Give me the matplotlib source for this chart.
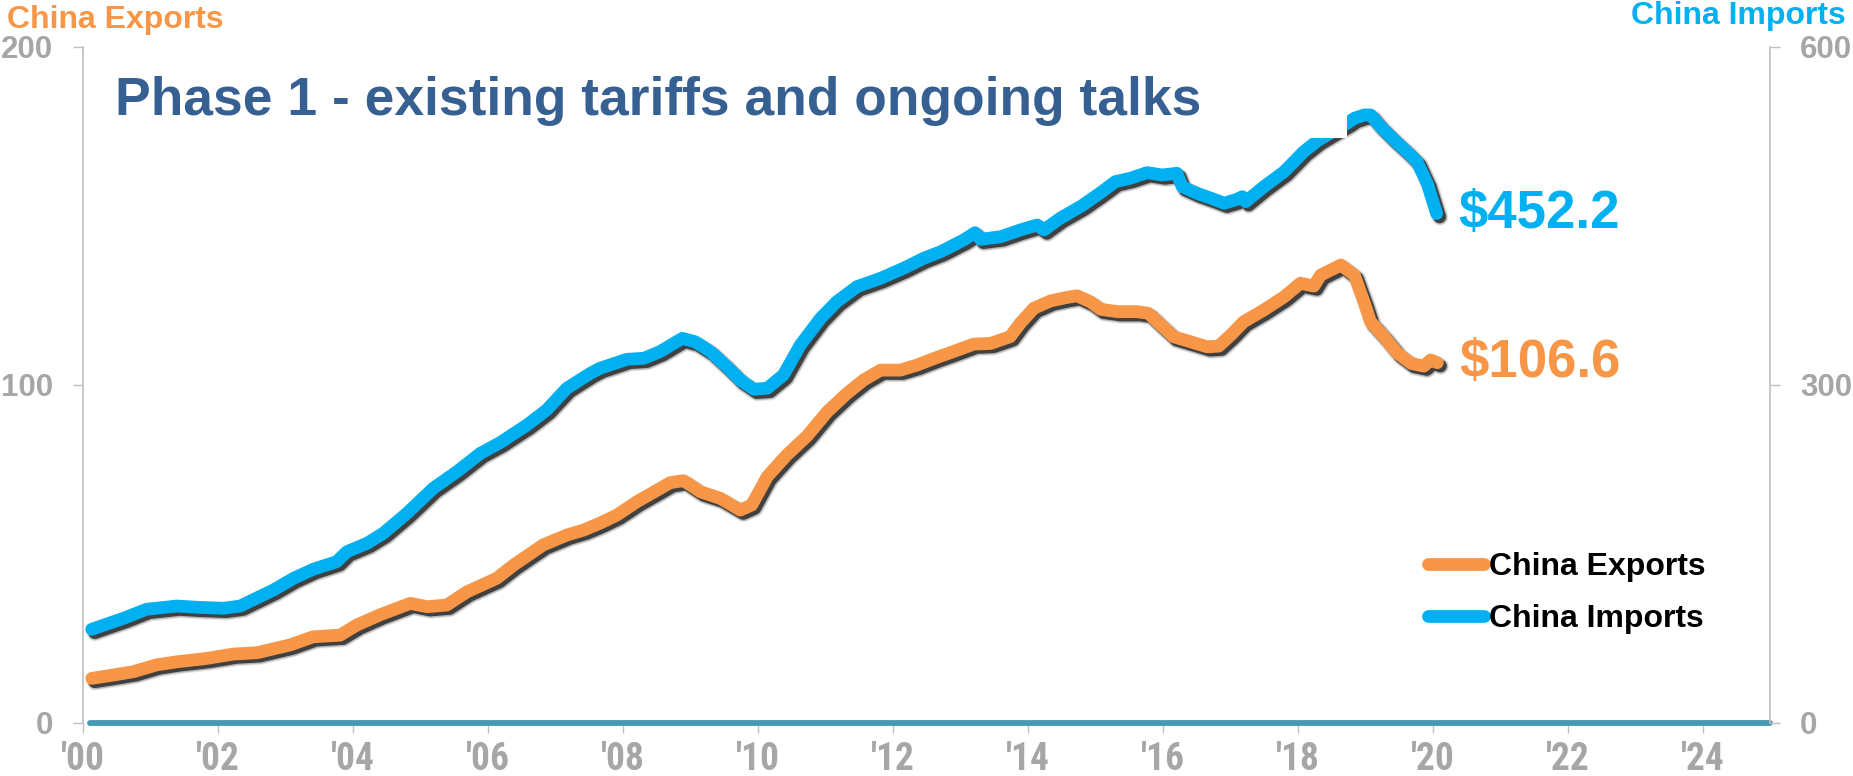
import matplotlib
matplotlib.use("Agg")
import matplotlib.pyplot as plt
from matplotlib import patheffects as pe
from matplotlib import font_manager as fm
from matplotlib.lines import Line2D
from matplotlib.patches import Rectangle

# --- data: 12-month totals, $bn -------------------------------------------
export_years = [2000.13, 2000.45, 2000.75, 2001.09, 2001.39, 2001.83, 2002.23, 2002.58,
                2003.07, 2003.41, 2003.81, 2004.06, 2004.40, 2004.85, 2005.10, 2005.39,
                2005.69, 2006.13, 2006.38, 2006.82, 2007.17, 2007.42, 2007.66, 2007.91,
                2008.21, 2008.51, 2008.70, 2008.90, 2009.15, 2009.44, 2009.74, 2009.91,
                2010.14, 2010.43, 2010.73, 2011.03, 2011.32, 2011.57, 2011.82, 2012.11,
                2012.36, 2012.66, 2012.90, 2013.20, 2013.45, 2013.74, 2013.89, 2014.09,
                2014.34, 2014.58, 2014.73, 2014.93, 2015.08, 2015.33, 2015.62, 2015.79,
                2015.97, 2016.16, 2016.41, 2016.66, 2016.83, 2017.01, 2017.20, 2017.50,
                2017.80, 2018.04, 2018.24, 2018.34, 2018.49, 2018.64, 2018.84, 2018.99,
                2019.08, 2019.28, 2019.48, 2019.68, 2019.87, 2019.97, 2020.07]
china_exports = [13.2, 14.2, 15.2, 17.2, 18.1, 19.1, 20.4, 20.8,
                 23.1, 25.5, 26.0, 29.0, 32.0, 35.4, 34.4, 34.9,
                 38.8, 42.8, 46.7, 52.7, 55.6, 57.1, 59.1, 61.5,
                 65.5, 68.9, 71.1, 71.7, 68.4, 66.5, 63.0, 64.5,
                 72.9, 79.3, 84.9, 92.1, 97.5, 101.5, 104.4, 104.4,
                 105.9, 108.2, 109.9, 112.1, 112.3, 114.3, 118.3, 122.7,
                 124.9, 125.9, 126.4, 124.6, 122.4, 121.7, 121.7, 121.2,
                 117.8, 114.3, 112.8, 111.3, 111.5, 114.8, 118.7, 122.2,
                 126.1, 130.1, 129.3, 132.5, 134.0, 135.5, 132.5, 124.2,
                 118.7, 114.3, 109.4, 106.4, 105.6, 107.4, 106.6]

import_years = [2000.13, 2000.60, 2000.94, 2001.39, 2001.69, 2002.08, 2002.33, 2002.82,
                2003.12, 2003.41, 2003.76, 2003.91, 2004.21, 2004.45, 2004.80, 2005.19,
                2005.54, 2005.89, 2006.18, 2006.58, 2006.87, 2007.17, 2007.52, 2007.66,
                2008.06, 2008.31, 2008.55, 2008.88, 2009.07, 2009.30, 2009.54, 2009.74,
                2009.94, 2010.14, 2010.38, 2010.63, 2010.93, 2011.17, 2011.47, 2011.82,
                2012.16, 2012.46, 2012.71, 2013.05, 2013.22, 2013.30, 2013.60, 2013.89,
                2014.14, 2014.24, 2014.48, 2014.80, 2015.08, 2015.30, 2015.52, 2015.77,
                2015.99, 2016.21, 2016.29, 2016.51, 2016.76, 2016.91, 2017.10, 2017.18,
                2017.23, 2017.50, 2017.80, 2018.09, 2018.30, 2018.55, 2018.75, 2018.84,
                2018.99, 2019.08, 2019.23, 2019.43, 2019.62, 2019.77, 2019.92, 2020.06]
china_imports = [83.2, 92.9, 100.9, 103.8, 102.7, 101.8, 103.8, 118.0,
                 128.4, 136.4, 143.2, 152.0, 159.5, 168.4, 186.1, 208.3,
                 223.0, 239.4, 248.8, 264.5, 277.8, 297.1, 310.4, 314.8,
                 322.8, 323.7, 329.6, 341.4, 338.4, 329.6, 316.3, 304.4,
                 296.2, 297.1, 308.9, 335.5, 359.2, 373.9, 387.3, 394.7,
                 403.6, 412.5, 418.3, 428.7, 435.2, 429.3, 431.6, 437.6,
                 442.0, 437.6, 448.0, 459.0, 470.7, 480.5, 483.5, 488.5,
                 486.4, 487.9, 476.0, 470.1, 464.8, 461.3, 464.8, 467.1,
                 462.7, 476.0, 489.3, 507.1, 517.0, 526.0, 533.0, 536.7,
                 539.7, 539.7, 529.3, 517.5, 507.1, 498.2, 479.0, 452.2]

x_ticks = list(range(2000, 2025, 2))
x_tick_labels = ["'00", "'02", "'04", "'06", "'08", "'10", "'12",
                 "'14", "'16", "'18", "'20", "'22", "'24"]
left_ticks = [0, 100, 200]
right_ticks = [0, 300, 600]

# --- style ---------------------------------------------------------------
ORANGE = "#F79646"
BLUE = "#00B0F0"
TITLE_BLUE = "#376092"
GREY_TXT = "#A6A6A6"
GREY_AX = "#BFBFBF"
ZERO_LINE = "#4599B3"

plt.rcParams["font.family"] = ["Liberation Sans", "DejaVu Sans"]
plt.rcParams["font.weight"] = "bold"

# a condensed face for the year labels, if one is available
installed = {f.name for f in fm.fontManager.ttflist}
narrow = None
for cand in ["Liberation Sans Narrow", "Arial Narrow", "Roboto Condensed",
             "DejaVu Sans Condensed", "Open Sans Condensed"]:
    if cand in installed:
        narrow = cand
        break
year_family = [narrow, "Liberation Sans"] if narrow else ["Liberation Sans"]
year_size = 27 if narrow else 20

W, H, DPI = 1853, 776, 100
fig = plt.figure(figsize=(W / DPI, H / DPI), dpi=DPI)
fig.patch.set_facecolor("white")

x0, x1, y_top, y_bot = 83, 1770, 47, 723
ax = fig.add_axes([x0 / W, 1 - y_bot / H, (x1 - x0) / W, (y_bot - y_top) / H])
ax2 = ax.twinx()

LW = 9.2


def shadow_effects():
    # soft drop shadow: a few widening, fading strokes under the line
    return [
        pe.SimpleLineShadow(offset=(2.4, -2.6), shadow_color="black", alpha=0.10, linewidth=LW + 3.0),
        pe.SimpleLineShadow(offset=(2.4, -2.6), shadow_color="black", alpha=0.20, linewidth=LW + 1.5),
        pe.SimpleLineShadow(offset=(2.2, -2.4), shadow_color="black", alpha=0.65, linewidth=LW),
        pe.Normal(),
    ]


ax.axhline(0, xmin=0.004, xmax=1.0, color=ZERO_LINE, lw=4.2,
           solid_capstyle="round", zorder=2, clip_on=False)

ax.plot(export_years, china_exports, color=ORANGE, lw=LW,
        solid_capstyle="round", solid_joinstyle="round",
        path_effects=shadow_effects(), zorder=3)
ax2.plot(import_years, china_imports, color=BLUE, lw=LW,
         solid_capstyle="round", solid_joinstyle="round",
         path_effects=shadow_effects(), zorder=3)

ax.set_xlim(2000, 2025)
ax.set_ylim(0, 200)
ax2.set_ylim(0, 600)

ax.set_xticks(x_ticks)
ax.set_xticklabels(x_tick_labels, family=year_family,
                   fontsize=year_size, fontweight="bold", color=GREY_TXT)
ax.set_yticks(left_ticks)
ax.set_yticklabels([str(v) for v in left_ticks], fontsize=22.5, fontweight="bold", color=GREY_TXT)
ax2.set_yticks(right_ticks)
ax2.set_yticklabels([str(v) for v in right_ticks], fontsize=22.5, fontweight="bold", color=GREY_TXT)

for a in (ax, ax2):
    for s in a.spines.values():
        s.set_visible(False)
    a.set_facecolor("none")
ax.spines["left"].set_visible(True)
ax.spines["left"].set_color(GREY_AX)
ax.spines["left"].set_linewidth(1.2)
ax2.spines["right"].set_visible(True)
ax2.spines["right"].set_color(GREY_AX)
ax2.spines["right"].set_linewidth(1.2)

ax.tick_params(axis="x", direction="out", length=7, width=1, color=GREY_AX, pad=6)
ax.tick_params(axis="y", direction="out", length=7, width=1, color=GREY_AX, pad=14.5)
ax2.tick_params(axis="y", direction="out", length=7, width=1, color=GREY_AX, pad=14.5)

# headline box (masks the chart area behind it)
mask = Rectangle(((100 - x0) / (x1 - x0), (y_bot - 138) / (y_bot - y_top)),
                 (1347 - 100) / (x1 - x0), 0.12,
                 transform=ax2.transAxes, facecolor="white", edgecolor="none",
                 zorder=5, clip_on=False)
ax2.add_patch(mask)
ax2.text((115 - x0) / (x1 - x0), (y_bot - 115) / (y_bot - y_top),
         "Phase 1 - existing tariffs and ongoing talks",
         transform=ax2.transAxes, fontsize=38.4, fontweight="bold",
         color=TITLE_BLUE, ha="left", va="baseline", zorder=6)

# end-of-line value labels
ax.annotate(f"${china_exports[-1]:.1f}", xy=(export_years[-1], china_exports[-1]),
            xytext=(22, 0), textcoords="offset pixels", fontsize=38,
            fontweight="bold", color=ORANGE, ha="left", va="center", zorder=6)
ax2.annotate(f"${china_imports[-1]:.1f}", xy=(import_years[-1], china_imports[-1]),
             xytext=(22, 0), textcoords="offset pixels", fontsize=38,
             fontweight="bold", color=BLUE, ha="left", va="center", zorder=6)

# axis titles
fig.text(7 / W, 1 - 28 / H, "China Exports", fontsize=23, fontweight="bold",
         color=ORANGE, ha="left", va="baseline")
fig.text(1846 / W, 1 - 24 / H, "China Imports", fontsize=23, fontweight="bold",
         color=BLUE, ha="right", va="baseline")

# legend
handles = [Line2D([], [], color=ORANGE, lw=LW, solid_capstyle="round"),
           Line2D([], [], color=BLUE, lw=LW, solid_capstyle="round")]
leg = fig.legend(handles, ["China Exports", "China Imports"],
                 loc="center left", bbox_to_anchor=(1428 / W, 1 - 593 / H),
                 frameon=False, fontsize=23, handlelength=1.75, handletextpad=0.15,
                 labelspacing=0.7, borderpad=0, borderaxespad=0)
for t in leg.get_texts():
    t.set_fontweight("bold")
    t.set_color("black")

fig.savefig("out.png", dpi=DPI, facecolor="white")
